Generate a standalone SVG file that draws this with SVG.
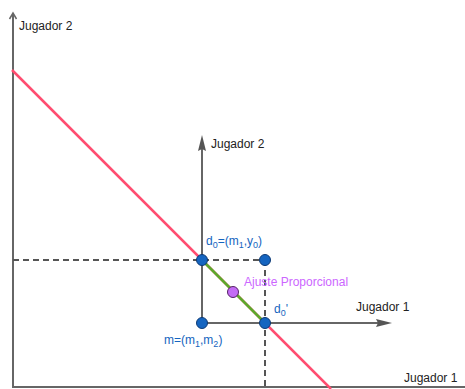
<svg xmlns="http://www.w3.org/2000/svg" width="465" height="389" viewBox="0 0 465 389">
<defs>
<style>
.ax{stroke:#666;stroke-width:2;fill:none}
.dash{stroke:#555;stroke-width:2;stroke-dasharray:6,4;fill:none}
.lbl{font-family:"Liberation Sans",Arial,sans-serif;font-size:12px;fill:#222}
.blue{font-family:"Liberation Sans",Arial,sans-serif;font-size:12px;fill:#1565c0}
.sub{font-size:9px}
.pt{fill:#1565c0;stroke:#0d3a75;stroke-width:1}
</style>
</defs>
<rect width="465" height="389" fill="#fff"/>
<g id="connectors">
<line class="ax" x1="13" y1="387" x2="13" y2="14"/>
<path d="M9.5,19 L13,13 L16.5,19" stroke="#666" stroke-width="1.5" fill="none"/>
<line class="ax" x1="12" y1="387" x2="465" y2="387"/>
<line class="ax" x1="202" y1="323" x2="202" y2="146"/>
<path d="M202,135 L206,151 L202,149 L198,151 Z" fill="#555"/>
<line class="ax" x1="202" y1="323" x2="380" y2="323"/>
<path d="M392,323 L376,327 L378,323 L376,319 Z" fill="#555"/>
<line class="dash" x1="13" y1="260" x2="265" y2="260"/>
<line class="dash" x1="265" y1="260" x2="265" y2="389"/>
<line x1="12" y1="70" x2="331" y2="389" stroke="#ff4d70" stroke-width="2.5"/>
<line x1="202" y1="260" x2="265" y2="323" stroke="#5da82c" stroke-width="2.5"/>
</g>
<g id="labels">
<text class="lbl" x="19" y="30">Jugador 2</text>
<text class="lbl" x="211" y="148">Jugador 2</text>
<text class="lbl" x="356" y="311">Jugador 1</text>
<text class="lbl" x="404" y="382">Jugador 1</text>
</g>
<g id="d0">
<circle class="pt" cx="202" cy="260" r="5.5"/>
<text class="blue" x="206" y="245">d<tspan class="sub" dy="3">0</tspan><tspan dy="-3">=(m</tspan><tspan class="sub" dy="3">1</tspan><tspan dy="-3">,y</tspan><tspan class="sub" dy="3">0</tspan><tspan dy="-3">)</tspan></text>
</g>
<g id="corner">
<circle class="pt" cx="265" cy="260" r="5.5"/>
</g>
<g id="d0prime">
<circle class="pt" cx="265" cy="323" r="5.5"/>
<text class="blue" x="274" y="313">d<tspan class="sub" dy="3">0</tspan><tspan dy="-3">'</tspan></text>
</g>
<g id="m">
<circle class="pt" cx="202" cy="323" r="5.5"/>
<text class="blue" x="164" y="344">m=(m<tspan class="sub" dy="3">1</tspan><tspan dy="-3">,m</tspan><tspan class="sub" dy="3">2</tspan><tspan dy="-3">)</tspan></text>
</g>
<g id="ajuste">
<circle cx="233" cy="292" r="5.5" fill="#c36bf5" stroke="#552266" stroke-width="1"/>
<text x="244" y="286" font-family="Liberation Sans,Arial,sans-serif" font-size="12" fill="#cc66ff">Ajuste Proporcional</text>
</g>
</svg>
